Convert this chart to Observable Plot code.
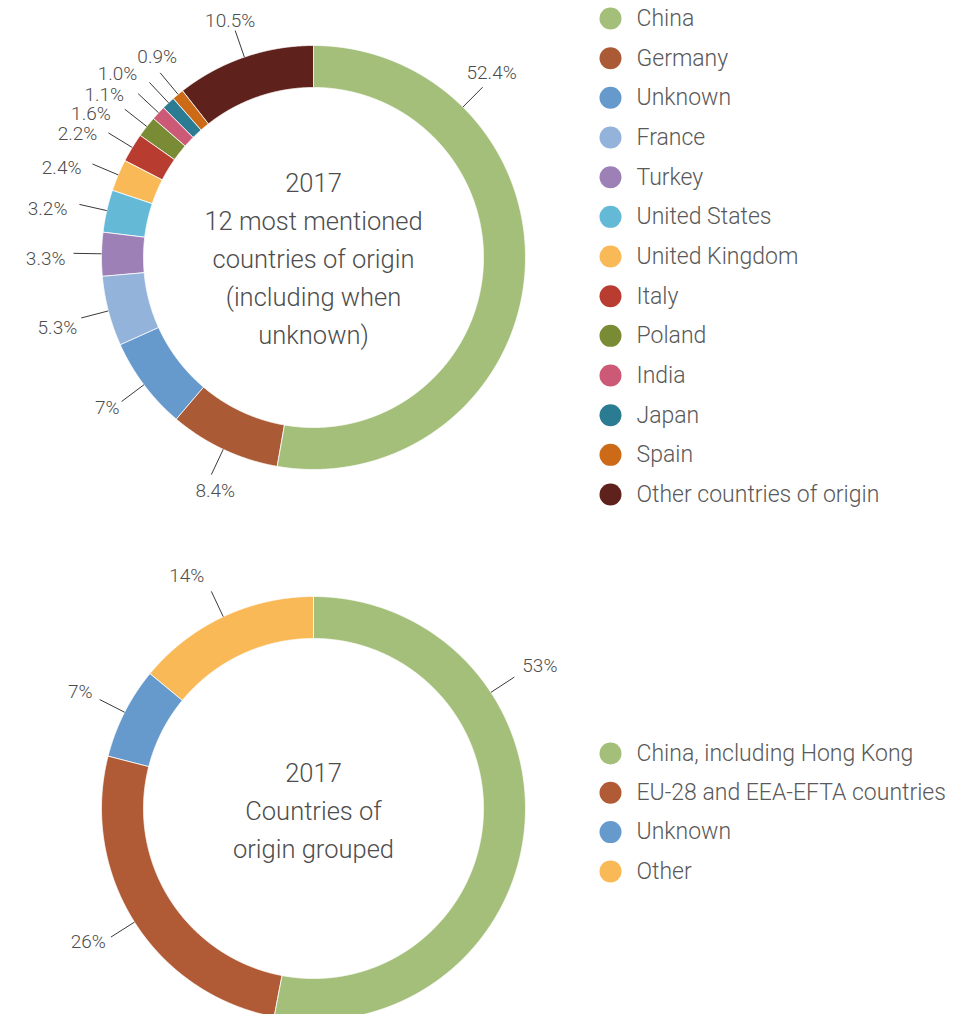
<!DOCTYPE html>
<html><head><meta charset="utf-8">
<script src="https://cdn.jsdelivr.net/npm/d3@7"></script>
<script src="https://cdn.jsdelivr.net/npm/@observablehq/plot@0.6"></script>
<style>body{margin:0;background:#fff;} #chart svg{display:block;overflow:hidden;}</style>
</head><body><div id="chart"></div>
<script>
// ---------- DATA ----------
const countries = ["China","Germany","Unknown","France","Turkey","United States","United Kingdom","Italy","Poland","India","Japan","Spain","Other countries of origin"];
const countryShares = [52.4, 8.4, 7, 5.3, 3.3, 3.2, 2.4, 2.2, 1.6, 1.1, 1.0, 0.9, 10.5];
const countryLabels = ["52.4%","8.4%","7%","5.3%","3.3%","3.2%","2.4%","2.2%","1.6%","1.1%","1.0%","0.9%","10.5%"];

const groups = ["China, including Hong Kong","EU-28 and EEA-EFTA countries","Unknown","Other"];
const groupShares = [53, 26, 7, 14];
const groupLabels = ["53%","26%","7%","14%"];

const topTitle = ["2017","12 most mentioned","countries of origin","(including when","unknown)"];
const bottomTitle = ["2017","Countries of","origin grouped"];

const colorDomain = [...countries, "China, including Hong Kong", "EU-28 and EEA-EFTA countries", "Other"];
const colorRange = ["#a3bf7a","#ab5a36","#6699cc","#93b3da","#9c80b6","#64b9d7","#f9b957","#b83c2f","#798b34","#cc5a76","#2b7c92","#cc6a18","#5f211b",
                    "#a3bf7a","#b05b36","#f9b957"];

// ---------- LAYOUT ----------
const W = 975, H = 1014;
const R_OUT = 212, R_IN = 170, LEADER = 28;
const topLabelLayout = [
  {angle:44.8, anchor:"middle", dx:9, dy:-14},
  {anchor:"middle", dx:4, dy:16},
  {anchor:"end", dx:-2, dy:6},
  {anchor:"end", dx:-4, dy:10},
  {anchor:"end", dx:-8, dy:6},
  {anchor:"end", dx:-12, dy:4},
  {anchor:"end", dx:-11, dy:4},
  {anchor:"end", dx:-11, dy:1},
  {anchor:"end", dx:-14, dy:5},
  {anchor:"end", dx:-14, dy:1},
  {anchor:"end", dx:-12, dy:-8},
  {anchor:"middle", dx:-3, dy:-16},
  {anchor:"middle", dx:-5, dy:-10}
];
const bottomLabelLayout = [
  {angle:56.8, anchor:"start", dx:8, dy:-11},
  {anchor:"end", dx:-5, dy:5},
  {anchor:"end", dx:-7, dy:-8},
  {anchor:"end", dx:-7, dy:-15}
];
const donuts = [
  {id:"top", cx:313, cy:257, names:countries, values:countryShares, labels:countryLabels, layout:topLabelLayout,
   title:topTitle, titleY:183, legendY:18, legendStep:39.67},
  {id:"bottom", cx:313, cy:808, names:groups, values:groupShares, labels:groupLabels, layout:bottomLabelLayout,
   title:bottomTitle, titleY:773, legendY:753, legendStep:39.3}
];
const TITLE_STEP = 38, LEGEND_DOT_X = 610, LEGEND_TEXT_X = 636;

// ---------- DERIVED ----------
const slicePts = [], leaders = [], labelRows = [], titleRows = [], legendRows = [];
const pol = (cx, cy, r, a) => ({x: cx + r * Math.sin(a), y: cy - r * Math.cos(a)});
for (const d of donuts) {
  const arcs = d3.pie().sort(null).value(v => v)(d.values);
  arcs.forEach((a, i) => {
    const key = d.id + i, name = d.names[i];
    const n = Math.max(3, Math.ceil((a.endAngle - a.startAngle) / 0.004));
    for (let k = 0; k <= n; k++) {
      const t = a.startAngle + (a.endAngle - a.startAngle) * k / n;
      slicePts.push({key, name, ...pol(d.cx, d.cy, R_OUT, t)});
    }
    for (let k = n; k >= 0; k--) {
      const t = a.startAngle + (a.endAngle - a.startAngle) * k / n;
      slicePts.push({key, name, ...pol(d.cx, d.cy, R_IN, t)});
    }
    const L = d.layout[i];
    const ang = L.angle != null ? L.angle * Math.PI / 180 : (a.startAngle + a.endAngle) / 2;
    const p1 = pol(d.cx, d.cy, R_OUT, ang), p2 = pol(d.cx, d.cy, R_OUT + LEADER, ang);
    leaders.push({x1:p1.x, y1:p1.y, x2:p2.x, y2:p2.y});
    labelRows.push({x:p2.x + L.dx, y:p2.y + L.dy, text:d.labels[i], anchor:L.anchor});
  });
  d.title.forEach((t, j) => titleRows.push({x:d.cx, y:d.titleY + j * TITLE_STEP, text:t}));
  d.names.forEach((nm, j) => legendRows.push({x:LEGEND_DOT_X, y:d.legendY + j * d.legendStep, name:nm}));
}

const textMarks = ["start","middle","end"].map(anc =>
  Plot.text(labelRows.filter(r => r.anchor === anc), {x:"x", y:"y", text:"text", textAnchor:anc, fontSize:19, fontWeight:300, fill:"#4d4d4d"}));

const chart = Plot.plot({
  width: W, height: H, margin: 0,
  x: {domain:[0, W], range:[0, W], axis:null},
  y: {domain:[0, H], range:[0, H], axis:null},
  color: {type:"ordinal", domain: colorDomain, range: colorRange},
  style: {fontFamily:"Roboto, 'Open Sans', sans-serif", background:"white"},
  marks: [
    Plot.line(slicePts, {x:"x", y:"y", z:"key", fill:"name", stroke:"white", strokeWidth:0.8, curve:"linear-closed"}),
    Plot.link(leaders, {x1:"x1", y1:"y1", x2:"x2", y2:"y2", stroke:"#3a3a3a", strokeWidth:1}),
    ...textMarks,
    Plot.text(titleRows, {x:"x", y:"y", text:"text", textAnchor:"middle", fontSize:25.5, fontWeight:300, fill:"#4d4d4d"}),
    Plot.dot(legendRows, {x:"x", y:"y", r:11, fill:"name"}),
    Plot.text(legendRows, {x: () => LEGEND_TEXT_X, y:"y", text:"name", textAnchor:"start", fontSize:23, fontWeight:300, fill:"#595959"})
  ]
});
document.getElementById("chart").appendChild(chart);
</script></body></html>
